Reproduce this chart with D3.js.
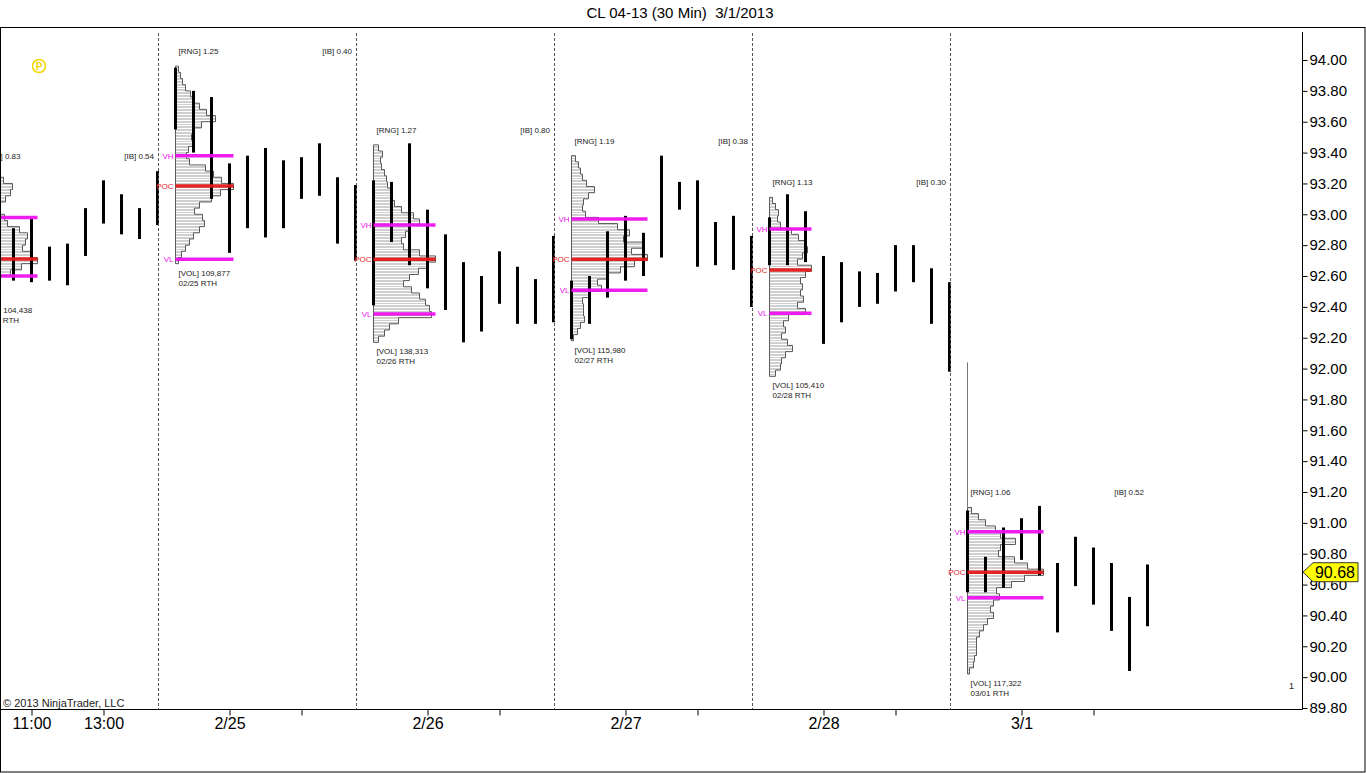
<!DOCTYPE html>
<html><head><meta charset="utf-8">
<script src="https://cdn.jsdelivr.net/npm/d3@7"></script>
<style>html,body{margin:0;padding:0;background:#fff;overflow:hidden}svg{display:block}</style>
</head><body>
<svg id="c" width="1366" height="773"></svg>
<script>
// ---------------- DATA ----------------
const title = "CL 04-13 (30 Min)  3/1/2013";
const lastPrice = 90.68;
// 30-minute bars (9:30 ... 14:30), high / low per session
const hi0222 = [null,null,92.91,92.97,92.79,92.81,93.04,93.22,93.13,93.04,93.28];
const lo0222 = [null,null,92.57,92.56,92.57,92.54,92.73,92.94,92.87,92.84,92.93];
const hi0225 = [93.95,93.80,93.76,93.33,93.38,93.43,93.35,93.37,93.46,93.24,93.19];
const lo0225 = [93.55,93.40,93.10,92.75,92.91,92.85,92.91,93.10,93.12,92.81,92.70];
const hi0226 = [93.22,93.21,93.46,93.03,92.87,92.69,92.60,92.76,92.66,92.58,92.86];
const lo0226 = [92.41,92.82,92.67,92.52,92.38,92.17,92.24,92.42,92.29,92.29,92.30];
const hi0227 = [92.57,92.60,92.89,92.99,92.88,93.38,93.21,93.22,92.95,92.99,92.86];
const lo0227 = [92.19,92.29,92.46,92.57,92.60,92.72,93.03,92.66,92.67,92.64,92.40];
const hi0228 = [92.98,93.13,93.02,92.73,92.69,92.63,92.62,92.80,92.80,92.65,92.56];
const lo0228 = [92.67,92.67,92.69,92.16,92.30,92.40,92.42,92.50,92.56,92.29,91.98];
const hi0301 = [91.08,90.78,90.97,91.03,91.11,90.74,90.91,90.84,90.74,90.52,90.73];
const lo0301 = [90.55,90.55,90.58,90.76,90.66,90.29,90.59,90.47,90.30,90.04,90.33];
const gapLine0301 = [92.04, 91.10];

// Volume profiles: relative volume per 0.04 price band, from profile top downwards
const profTop = [93.28, 93.96, 93.45, 93.38, 93.11, 91.10];
const vol0222 = [15,26,35,33,28,20,21,27,30,42,50,48,45,54,60,44,33,20,15,10,5];
const vol0225 = [3,5,7,10,15,19,24,31,40,26,18,16,18,13,11,14,30,38,46,58,45,36,24,19,27,29,24,18,14,10,6,3];
const vol0226 = [5,9,7,8,11,13,14,17,18,21,28,40,46,37,32,28,30,46,62,55,45,36,30,38,46,52,56,58,25,16,11,5];
const vol0227 = [4,7,9,11,15,23,17,12,11,14,27,46,58,52,72,60,76,63,49,36,26,30,17,11,12,12,13,9,6,2];
const vol0228 = [3,6,9,8,11,22,29,36,38,33,28,42,36,31,33,31,34,28,36,19,14,16,12,18,23,16,12,11,6];
const vol0301 = [4,11,18,28,33,48,33,31,47,60,76,57,44,29,32,26,23,26,20,16,12,9,9,9,7,6,2];
const valueHigh = [92.98, 93.38, 92.93, 92.97, 92.905, 90.943];
const pocPrice  = [92.71, 93.183, 92.708, 92.708, 92.639, 90.68];
const valueLow  = [92.60, 92.708, 92.354, 92.507, 92.358, 90.515];
const rngText = ["0.83","1.25","1.27","1.19","1.13","1.06"];
const ibText  = ["0.54","0.40","0.80","0.38","0.30","0.52"];
const volText = ["104,438","109,877","138,313","115,980","105,410","117,322"];
const sessionText = ["02/22","02/25","02/26","02/27","02/28","03/01"];

// axis ticks
const yTicks = [89.8,90.0,90.2,90.4,90.6,90.8,91.0,91.2,91.4,91.6,91.8,92.0,92.2,92.4,92.6,92.8,93.0,93.2,93.4,93.6,93.8,94.0];
const xTickBars = [3,7,14,18,25,29,36,40,47,51,58,62];
const xTickLabels = ["11:00","13:00","2/25","","2/26","","2/27","","2/28","","3/1",""];

// ---------------- LAYOUT ----------------
const BAND = 0.04, TICK = 0.01, BARS_PER_DAY = 11;
const highs = [hi0222,hi0225,hi0226,hi0227,hi0228,hi0301];
const lows  = [lo0222,lo0225,lo0226,lo0227,lo0228,lo0301];
const vols  = [vol0222,vol0225,vol0226,vol0227,vol0228,vol0301];

const FONT = "Arial, 'Liberation Sans', sans-serif";
const svg = d3.select("#c");
const plotR = 1302, plotT = 27, plotB = 709;

const x = d3.scaleLinear().domain([0, 11]).range([-23, 175]);   // global bar index -> px
const y = d3.scaleLinear().domain([89.787, 94.214]).range([710, 27]);
const w = d3.scaleLinear().domain([0, 100]).range([0, 100]);    // relative volume -> px

// frame
svg.append("rect").attr("x",0.5).attr("y",27.5).attr("width",1364.5).attr("height",744.5)
  .attr("fill","none").attr("stroke","#000").attr("stroke-width",1);

svg.append("text").attr("x",680).attr("y",18).attr("text-anchor","middle").style("white-space","pre")
  .attr("xml:space","preserve")
  .attr("font-family",FONT).attr("font-size",15).attr("fill","#000").text(title);

svg.append("defs").append("clipPath").attr("id","clip").append("rect")
  .attr("x",1).attr("y",28).attr("width",plotR-1).attr("height",plotB-28);
const g = svg.append("g").attr("clip-path","url(#clip)");

// day separators
for (let d = 0; d < 5; d++) {
  const gx = Math.round(x(d*BARS_PER_DAY + 10)) + 1.5;
  g.append("line").attr("x1",gx).attr("x2",gx).attr("y1",33).attr("y2",plotB)
    .attr("stroke","#555").attr("stroke-width",1).attr("stroke-dasharray","3,2");
}

const gProf = g.append("g");
const gBars = g.append("g");
const gLev = g.append("g");

function addText(parent, xx, yy, txt, color, anchor) {
  // skip texts that would lie wholly outside the picture
  if (anchor === "end" ? xx < 1 : xx + txt.length*4.5 < 1) return;
  parent.append("text").attr("x",xx).attr("y",yy).attr("text-anchor",anchor || "start")
    .attr("font-family",FONT).attr("font-size",8).attr("fill",color).text(txt);
}

vols.forEach((vv, d) => {
  const g0 = d*BARS_PER_DAY;
  const left = Math.round(x(g0)) + 0.5;
  const top = profTop[d];
  const bottom = top - vv.length*BAND;
  // fill lines per tick
  vv.forEach((v, i) => {
    for (let j = 0; j < 4; j++) {
      const p = top - i*BAND - (j+0.5)*TICK;
      const yy = Math.round(y(p)) + 0.5;
      gProf.append("line").attr("x1",left).attr("x2",left + w(v)).attr("y1",yy).attr("y2",yy)
        .attr("stroke","#cfcfcf").attr("stroke-width",1);
    }
  });
  // outline
  let path = `M${left},${y(top)}`;
  vv.forEach((v, i) => {
    path += ` H${left + w(v)} V${y(top - (i+1)*BAND)}`;
  });
  path += ` H${left}`;
  gProf.append("path").attr("d",path).attr("fill","none").attr("stroke","#5a5a5a").attr("stroke-width",1);
  gProf.append("line").attr("x1",left).attr("x2",left).attr("y1",y(top)).attr("y2",y(bottom))
    .attr("stroke","#5a5a5a").attr("stroke-width",1);

  // VH / POC / VL
  const len = w(d3.max(vv));
  const levels = [[valueHigh[d],"#ee11ee","VH"],[pocPrice[d],"#e41a1a","POC"],[valueLow[d],"#ee11ee","VL"]];
  levels.forEach(([p,c,lab]) => {
    gLev.append("line").attr("x1",left).attr("x2",left+len).attr("y1",y(p)).attr("y2",y(p))
      .attr("stroke",c).attr("stroke-width",3.5).attr("stroke-opacity",0.95);
    addText(gLev, left-2, y(p)+3, lab, c, "end");
  });

  // stats text
  const tTop = y(top) - 12;
  const dayEnd = Math.round(x(g0+10)) - 3;
  addText(gLev, left+3, tTop, "[RNG] " + rngText[d], "#222");
  addText(gLev, dayEnd, tTop, "[IB] " + ibText[d], "#222", "end");
  addText(gLev, left+3, y(bottom)+12, "[VOL] " + volText[d], "#222");
  addText(gLev, left+3, y(bottom)+22, sessionText[d] + " RTH", "#222");
});

// gap line at 3/1 open
{
  const gx = Math.round(x(5*BARS_PER_DAY)) + 0.5;
  gProf.append("line").attr("x1",gx).attr("x2",gx).attr("y1",y(gapLine0301[0])).attr("y2",y(gapLine0301[1]))
    .attr("stroke","#777").attr("stroke-width",1);
}

// bars
highs.forEach((hh, d) => {
  hh.forEach((h, k) => {
    if (h == null) return;
    const gx = Math.round(x(d*BARS_PER_DAY + k)) + 0.5;
    gBars.append("line").attr("x1",gx).attr("x2",gx).attr("y1",y(h)).attr("y2",y(lows[d][k]))
      .attr("stroke","#000").attr("stroke-width",3);
  });
});
gBars.lower(); gProf.lower();

// axes
const yAxis = d3.axisRight(y).tickValues(yTicks).tickSize(5).tickSizeOuter(0).tickFormat(d3.format(".2f"));
const ya = svg.append("g").attr("transform",`translate(${plotR+0.5},0)`).call(yAxis);
ya.select(".domain").remove();
ya.selectAll("text").attr("font-family",FONT).attr("font-size",15).attr("fill","#000").attr("x",7);
ya.selectAll("line").attr("stroke","#000");
svg.append("line").attr("x1",plotR+0.5).attr("x2",plotR+0.5).attr("y1",32).attr("y2",plotB+0.5).attr("stroke","#000");

const xAxis = d3.axisBottom(x).tickValues(xTickBars).tickSize(6).tickSizeOuter(0).tickFormat((d,i)=>xTickLabels[i]);
const xa = svg.append("g").attr("transform",`translate(0.5,${plotB+0.5})`).call(xAxis);
xa.select(".domain").remove();
xa.selectAll("text").attr("font-family",FONT).attr("font-size",16).attr("fill","#000").attr("y",8);
xa.selectAll("line").attr("stroke","#000");
svg.append("line").attr("x1",0).attr("x2",plotR+0.5).attr("y1",plotB+0.5).attr("y2",plotB+0.5).attr("stroke","#000");

// copyright & misc
svg.append("text").attr("x",3).attr("y",707).attr("font-family",FONT).attr("font-size",11).attr("fill","#222")
  .text("\u00A9 2013 NinjaTrader, LLC");
svg.append("text").attr("x",1289).attr("y",689).attr("font-family",FONT).attr("font-size",9).attr("fill","#222").text("1");
svg.append("circle").attr("cx",39).attr("cy",66).attr("r",6.5).attr("fill","none").attr("stroke","#f2d600").attr("stroke-width",1.5);
svg.append("text").attr("x",39).attr("y",70).attr("text-anchor","middle").attr("font-family",FONT)
  .attr("font-size",10).attr("font-weight","bold").attr("fill","#f2d600").text("P");

// last price marker (drawn over the axis labels, as in the original)
{
  const yy = y(lastPrice);
  const pts = [[plotR+1, yy],[plotR+11, yy-9.5],[1358, yy-9.5],[1358, yy+9.5],[plotR+11, yy+9.5]];
  svg.append("polygon").attr("points", pts.map(p=>p.join(",")).join(" "))
    .attr("fill","#ffff00").attr("stroke","#333").attr("stroke-width",1);
  svg.append("text").attr("x",1355).attr("y",yy+6).attr("text-anchor","end").attr("font-family",FONT)
    .attr("font-size",16).attr("fill","#000").text(d3.format(".2f")(lastPrice));
}
</script>
</body></html>
